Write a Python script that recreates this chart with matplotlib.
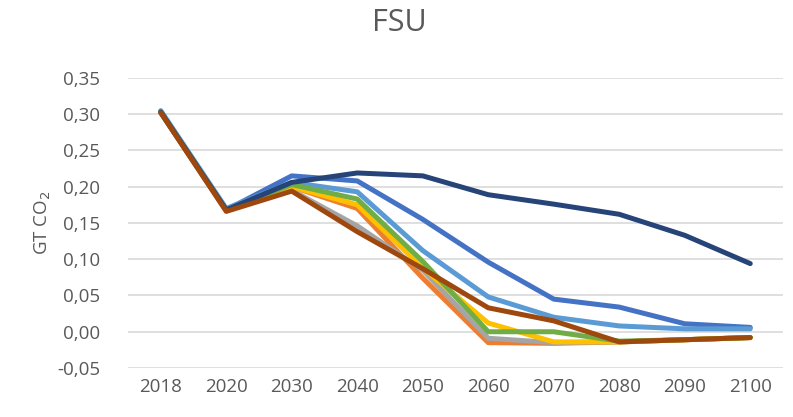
#FSU emissions pathways, line chart
import matplotlib
matplotlib.use('Agg')
import matplotlib.pyplot as plt	#to plot
from matplotlib.ticker import FuncFormatter, MultipleLocator

###################################################################
#data
years = ['2018', '2020', '2030', '2040', '2050', '2060', '2070', '2080', '2090', '2100']
blue      = [0.303, 0.168, 0.215, 0.208, 0.155, 0.096, 0.045, 0.034, 0.011, 0.006]
orange    = [0.303, 0.168, 0.200, 0.170, 0.074, -0.015, -0.016, -0.014, -0.011, -0.008]
gray      = [0.303, 0.168, 0.195, 0.146, 0.085, -0.009, -0.015, -0.014, -0.011, -0.008]
yellow    = [0.303, 0.168, 0.200, 0.175, 0.088, 0.012, -0.014, -0.014, -0.011, -0.008]
lightblue = [0.305, 0.170, 0.206, 0.193, 0.112, 0.048, 0.020, 0.008, 0.004, 0.004]
green     = [0.303, 0.168, 0.203, 0.183, 0.097, 0.000, 0.000, -0.013, -0.011, -0.008]
navy      = [0.303, 0.168, 0.206, 0.219, 0.215, 0.189, 0.176, 0.162, 0.133, 0.094]
brown     = [0.302, 0.166, 0.194, 0.138, 0.087, 0.033, 0.015, -0.014, -0.011, -0.008]

series = [blue, orange, gray, yellow, lightblue, green, navy, brown]
colors = ['#4472C4', '#ED7D31', '#A5A5A5', '#FFC000', '#5B9BD5', '#70AD47', '#264478', '#9E480E']

####################################################
plt.rcParams['font.family'] = ['Open Sans', 'DejaVu Sans']
txt = '#595959'

fig = plt.figure(figsize=(7.93, 4.17), dpi=100)
ax = fig.add_axes([0.1614, 0.1175, 0.826, 0.6955])

x = range(len(years))
for s, c in zip(series, colors):
    ax.plot(x, s, color=c, linewidth=3.6, solid_capstyle='round', solid_joinstyle='round')

ax.set_xlim(-0.5, len(years) - 0.5)
ax.set_ylim(-0.05, 0.35)
ax.yaxis.set_major_locator(MultipleLocator(0.05))
ax.yaxis.set_major_formatter(FuncFormatter(lambda v, p: f'{v:.2f}'.replace('.', ',')))
ax.set_xticks(list(x))
ax.set_xticklabels(years)
ax.tick_params(axis='both', length=0, labelsize=13.5, labelcolor=txt)
ax.tick_params(axis='y', pad=20)
ax.tick_params(axis='x', pad=7)
ax.grid(True, axis='y', color='#D9D9D9', linewidth=1.2)
ax.set_axisbelow(True)
for sp in ax.spines.values():
    sp.set_visible(False)

ax.set_ylabel('GT CO$_2$', fontsize=13.5, color=txt, labelpad=10)
ax.yaxis.set_label_coords(-0.115, 0.5)
fig.text(0.503, 0.945, 'FSU', ha='center', va='center', fontsize=22, color=txt)

plt.savefig('out.png', dpi=100)
